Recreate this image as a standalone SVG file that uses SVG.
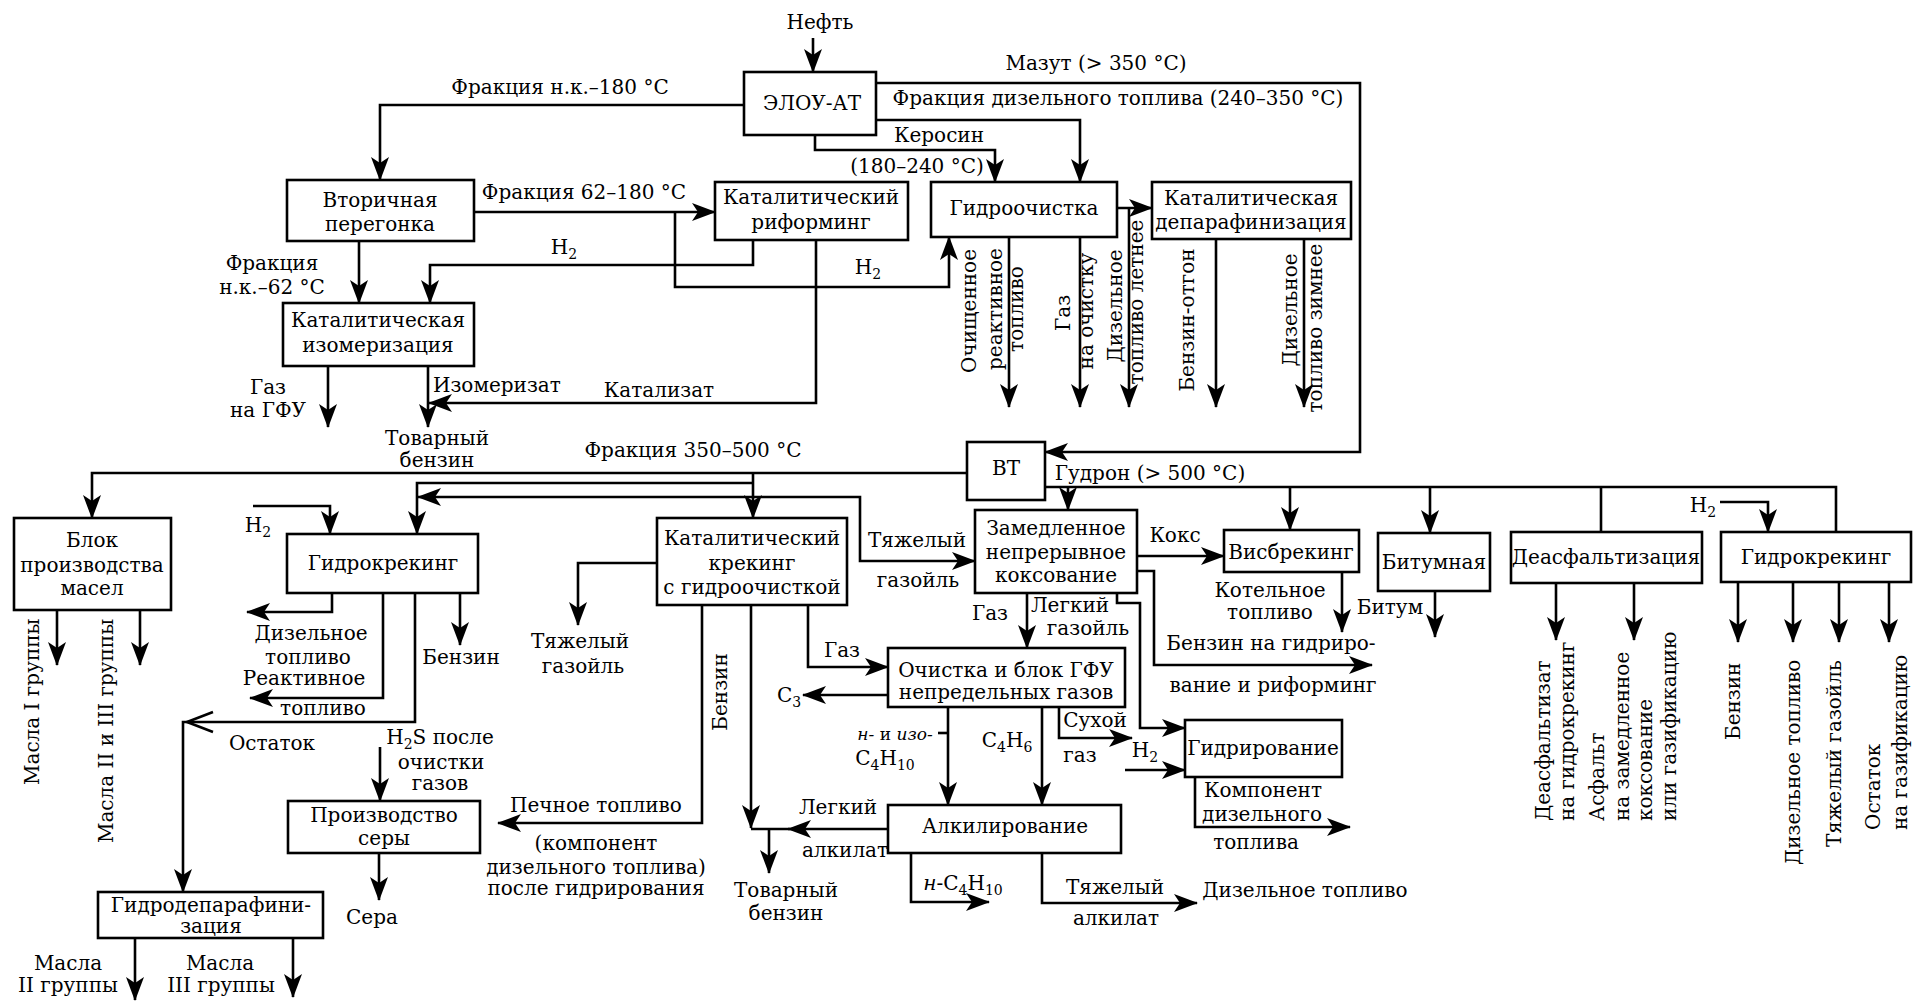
<svg xmlns="http://www.w3.org/2000/svg" width="1924" height="1005" viewBox="0 0 1924 1005">
<style>
.box{fill:#fff;stroke:#000;stroke-width:2.6}
.ln{fill:none;stroke:#000;stroke-width:2.6;marker-end:url(#ah)}
.nl{fill:none;stroke:#000;stroke-width:2.6}
text{font-family:"DejaVu Serif","Liberation Serif",serif;font-size:20px;fill:#000;text-anchor:middle}
.s{text-anchor:start}
.e{text-anchor:end}
.sub{font-size:14px}
.it{font-style:italic}
</style>
<defs>
<marker id="ah" viewBox="0 0 24 18" refX="23" refY="9" markerWidth="24" markerHeight="18" markerUnits="userSpaceOnUse" orient="auto-start-reverse"><path d="M0,0 L24,9 L0,18 L6,9 z" fill="#000"/></marker>
</defs>
<rect width="1924" height="1005" fill="#fff"/>

<g id="connectors">
<path class="ln" d="M813,38 V72"/>
<path class="ln" d="M744,105 H380 V180"/>
<path class="ln" d="M876,83 H1360 V452 H1045"/>
<path class="ln" d="M876,120 H1080 V182"/>
<path class="ln" d="M815,135 V150 H995 V182"/>
<path class="ln" d="M474,212 H715"/>
<path class="ln" d="M359,241 V303"/>
<path class="ln" d="M753,240 V265 H430 V303"/>
<path class="ln" d="M675,212 V287 H949 V237"/>
<path class="ln" d="M816,240 V403 H429"/>
<path class="ln" d="M328,366 V427"/>
<path class="ln" d="M428,366 V427"/>
<path class="ln" d="M1117,208 H1152"/>
<path class="ln" d="M1129,208 V407"/>
<path class="ln" d="M1009,237 V407"/>
<path class="ln" d="M1080,237 V407"/>
<path class="ln" d="M1216,239 V407"/>
<path class="ln" d="M1304,239 V407"/>
<path class="ln" d="M967,473 H92 V518"/>
<path class="ln" d="M753,473 V518"/>
<path class="ln" d="M753,483 H417 V534"/>
<path class="ln" d="M418,497 H860 V561 H975" style="marker-start:url(#ah)"/>
<path class="nl" d="M1045,487 H1836 V532"/>
<path class="nl" d="M1601,487 V532"/>
<path class="ln" d="M1068,487 V510"/>
<path class="ln" d="M1290,487 V530"/>
<path class="ln" d="M1430,487 V533"/>
<path class="ln" d="M1137,556 H1224"/>
<path class="ln" d="M1342,572 V632"/>
<path class="ln" d="M1435,591 V637"/>
<path class="ln" d="M1720,502 H1768 V532"/>
<path class="ln" d="M1556,583 V640"/>
<path class="ln" d="M1634,583 V640"/>
<path class="ln" d="M1738,582 V642"/>
<path class="ln" d="M1793,582 V642"/>
<path class="ln" d="M1839,582 V642"/>
<path class="ln" d="M1889,582 V642"/>
<path class="ln" d="M57,610 V665"/>
<path class="ln" d="M140,610 V665"/>
<path class="ln" d="M253,506 H330 V534"/>
<path class="ln" d="M332,593 V612 H247"/>
<path class="ln" d="M383,593 V698 H250"/>
<path class="ln" d="M415,593 V722 H183 V892"/>
<path class="nl" d="M213,712 L187,722 L213,732"/>
<path class="ln" d="M460,593 V645"/>
<path class="ln" d="M380,747 V801"/>
<path class="ln" d="M379,853 V900"/>
<path class="ln" d="M135,938 V1000"/>
<path class="ln" d="M293,938 V997"/>
<path class="ln" d="M657,563 H578 V625"/>
<path class="ln" d="M702,605 V823 H498"/>
<path class="ln" d="M751,605 V828"/>
<path class="ln" d="M888,829 H788"/>
<path class="nl" d="M790,829 H751"/>
<path class="ln" d="M769,829 V873"/>
<path class="ln" d="M808,605 V667 H888"/>
<path class="ln" d="M1027,593 V648"/>
<path class="ln" d="M1117,593 V603 H1140 V728 H1185"/>
<path class="ln" d="M1137,571 H1154 V665 H1372"/>
<path class="ln" d="M888,695 H803"/>
<path class="ln" d="M948,707 V805"/>
<path class="nl" d="M938,733 H948"/>
<path class="ln" d="M1042,707 V805"/>
<path class="ln" d="M1059,707 V738 H1132"/>
<path class="ln" d="M1125,770 H1185"/>
<path class="ln" d="M1195,777 V827 H1350"/>
<path class="ln" d="M1042,853 V903 H1197"/>
<path class="ln" d="M911,853 V902 H989"/>
</g>

<g id="n-elou"><rect class="box" x="744" y="72" width="132" height="63"/><text x="812" y="110">ЭЛОУ-АТ</text></g>
<g id="n-vtorichnaya"><rect class="box" x="287" y="180" width="187" height="61"/><text x="380" y="207">Вторичная</text><text x="380" y="231">перегонка</text></g>
<g id="n-riforming"><rect class="box" x="715" y="182" width="193" height="58"/><text x="811" y="204">Каталитический</text><text x="811" y="229">риформинг</text></g>
<g id="n-gidroochistka"><rect class="box" x="931" y="182" width="186" height="55"/><text x="1024" y="215">Гидроочистка</text></g>
<g id="n-deparaf"><rect class="box" x="1152" y="182" width="199" height="57"/><text x="1251" y="205">Каталитическая</text><text x="1251" y="229">депарафинизация</text></g>
<g id="n-izomer"><rect class="box" x="283" y="303" width="191" height="63"/><text x="378" y="327">Каталитическая</text><text x="378" y="352">изомеризация</text></g>
<g id="n-vt"><rect class="box" x="967" y="442" width="78" height="58"/><text x="1006" y="475">ВТ</text></g>
<g id="n-masla"><rect class="box" x="14" y="518" width="157" height="92"/><text x="92" y="547">Блок</text><text x="92" y="572">производства</text><text x="92" y="595">масел</text></g>
<g id="n-gk1"><rect class="box" x="287" y="534" width="191" height="59"/><text x="383" y="570">Гидрокрекинг</text></g>
<g id="n-kk"><rect class="box" x="657" y="518" width="190" height="87"/><text x="752" y="545">Каталитический</text><text x="752" y="570">крекинг</text><text x="752" y="594">с гидроочисткой</text></g>
<g id="n-koks"><rect class="box" x="975" y="510" width="162" height="83"/><text x="1056" y="535">Замедленное</text><text x="1056" y="559">непрерывное</text><text x="1056" y="582">коксование</text></g>
<g id="n-visb"><rect class="box" x="1224" y="530" width="135" height="42"/><text x="1291" y="559">Висбрекинг</text></g>
<g id="n-bitum"><rect class="box" x="1378" y="533" width="112" height="58"/><text x="1434" y="569">Битумная</text></g>
<g id="n-deasf"><rect class="box" x="1511" y="532" width="191" height="51"/><text x="1606" y="564">Деасфальтизация</text></g>
<g id="n-gk2"><rect class="box" x="1721" y="532" width="190" height="50"/><text x="1816" y="564">Гидрокрекинг</text></g>
<g id="n-gfu"><rect class="box" x="888" y="648" width="237" height="59"/><text x="1006" y="677">Очистка и блок ГФУ</text><text x="1006" y="699">непредельных газов</text></g>
<g id="n-gidrir"><rect class="box" x="1185" y="720" width="157" height="57"/><text x="1263" y="755">Гидрирование</text></g>
<g id="n-alkil"><rect class="box" x="888" y="805" width="233" height="48"/><text x="1005" y="833">Алкилирование</text></g>
<g id="n-sera"><rect class="box" x="288" y="801" width="192" height="52"/><text x="384" y="822">Производство</text><text x="384" y="845">серы</text></g>
<g id="n-gdp"><rect class="box" x="98" y="892" width="225" height="46"/><text x="211" y="912">Гидродепарафини-</text><text x="211" y="933">зация</text></g>

<g id="labels">
<text x="820" y="29">Нефть</text>
<text x="560" y="94">Фракция н.к.–180 °C</text>
<text x="1096" y="70">Мазут (&gt; 350 °C)</text>
<text x="1118" y="105">Фракция дизельного топлива (240–350 °C)</text>
<text x="939" y="142">Керосин</text>
<text x="917" y="173">(180–240 °C)</text>
<text x="584" y="199">Фракция 62–180 °C</text>
<text x="564" y="254">H<tspan class="sub" dy="5">2</tspan></text>
<text x="868" y="274">H<tspan class="sub" dy="5">2</tspan></text>
<text x="272" y="270">Фракция</text>
<text x="272" y="294">н.к.–62 °C</text>
<text x="268" y="394">Газ</text>
<text x="268" y="417">на ГФУ</text>
<text class="s" x="433" y="392">Изомеризат</text>
<text x="659" y="397">Катализат</text>
<text x="437" y="445">Товарный</text>
<text x="437" y="467">бензин</text>
<text x="693" y="457">Фракция 350–500 °C</text>
<text x="1150" y="480">Гудрон (&gt; 500 °C)</text>
<text x="258" y="532">H<tspan class="sub" dy="5">2</tspan></text>
<text x="917" y="547">Тяжелый</text>
<text x="918" y="587">газойль</text>
<text x="1175" y="542">Кокс</text>
<text x="1703" y="512">H<tspan class="sub" dy="5">2</tspan></text>
<text x="1270" y="597">Котельное</text>
<text x="1270" y="619">топливо</text>
<text x="1390" y="614">Битум</text>
<text x="1271" y="650">Бензин на гидриро-</text>
<text x="1273" y="692">вание и риформинг</text>
<text x="990" y="620">Газ</text>
<text x="1070" y="612">Легкий</text>
<text x="1088" y="635">газойль</text>
<text x="580" y="648">Тяжелый</text>
<text x="583" y="673">газойль</text>
<text x="842" y="657">Газ</text>
<text x="789" y="702">C<tspan class="sub" dy="5">3</tspan></text>
<text x="895" y="740" style="font-size:17px"><tspan class="it">н-</tspan> и <tspan class="it">изо-</tspan></text>
<text x="885" y="765">C<tspan class="sub" dy="5">4</tspan><tspan dy="-5">H</tspan><tspan class="sub" dy="5">10</tspan></text>
<text x="1007" y="747">C<tspan class="sub" dy="5">4</tspan><tspan dy="-5">H</tspan><tspan class="sub" dy="5">6</tspan></text>
<text x="1095" y="727">Сухой</text>
<text x="1080" y="762">газ</text>
<text x="1145" y="757">H<tspan class="sub" dy="5">2</tspan></text>
<text x="1263" y="797">Компонент</text>
<text x="1262" y="821">дизельного</text>
<text x="1256" y="849">топлива</text>
<text x="838" y="814">Легкий</text>
<text x="845" y="857">алкилат</text>
<text x="786" y="897">Товарный</text>
<text x="786" y="920">бензин</text>
<text x="963" y="890"><tspan class="it">н</tspan>-C<tspan class="sub" dy="5">4</tspan><tspan dy="-5">H</tspan><tspan class="sub" dy="5">10</tspan></text>
<text x="1115" y="894">Тяжелый</text>
<text x="1116" y="925">алкилат</text>
<text x="1305" y="897">Дизельное топливо</text>
<text x="596" y="812">Печное топливо</text>
<text x="596" y="850">(компонент</text>
<text x="596" y="874">дизельного топлива)</text>
<text x="596" y="895">после гидрирования</text>
<text x="311" y="640">Дизельное</text>
<text x="308" y="664">топливо</text>
<text x="304" y="685">Реактивное</text>
<text x="323" y="715">топливо</text>
<text x="461" y="664">Бензин</text>
<text x="272" y="750">Остаток</text>
<text x="440" y="744">H<tspan class="sub" dy="5">2</tspan><tspan dy="-5">S после</tspan></text>
<text x="441" y="769">очистки</text>
<text x="440" y="790">газов</text>
<text x="372" y="924">Сера</text>
<text x="68" y="970">Масла</text>
<text x="68" y="992">II группы</text>
<text x="220" y="970">Масла</text>
<text x="221" y="992">III группы</text>

<text class="s" transform="translate(39,785) rotate(-90)">Масла I группы</text>
<text transform="translate(113,731) rotate(-90)">Масла II и III группы</text>
<text transform="translate(976,311) rotate(-90)">Очищенное</text>
<text transform="translate(1002,309) rotate(-90)">реактивное</text>
<text transform="translate(1023,309) rotate(-90)">топливо</text>
<text transform="translate(1070,313) rotate(-90)">Газ</text>
<text transform="translate(1093,311) rotate(-90)">на очистку</text>
<text transform="translate(1122,306) rotate(-90)">Дизельное</text>
<text transform="translate(1143,302) rotate(-90)">топливо летнее</text>
<text transform="translate(1194,320) rotate(-90)">Бензин-отгон</text>
<text transform="translate(1297,310) rotate(-90)">Дизельное</text>
<text transform="translate(1322,328) rotate(-90)">топливо зимнее</text>
<text transform="translate(727,692) rotate(-90)">Бензин</text>
<text class="s" transform="translate(1550,821) rotate(-90)">Деасфальтизат</text>
<text class="s" transform="translate(1574,821) rotate(-90)">на гидрокрекинг</text>
<text class="s" transform="translate(1604,821) rotate(-90)">Асфальт</text>
<text class="s" transform="translate(1629,821) rotate(-90)">на замедленное</text>
<text class="s" transform="translate(1652,821) rotate(-90)">коксование</text>
<text class="s" transform="translate(1676,821) rotate(-90)">или газификацию</text>
<text class="s" transform="translate(1740,740) rotate(-90)">Бензин</text>
<text class="s" transform="translate(1800,865) rotate(-90)">Дизельное топливо</text>
<text class="s" transform="translate(1841,847) rotate(-90)">Тяжелый газойль</text>
<text class="s" transform="translate(1880,830) rotate(-90)">Остаток</text>
<text class="s" transform="translate(1907,830) rotate(-90)">на газификацию</text>
</g>
</svg>
